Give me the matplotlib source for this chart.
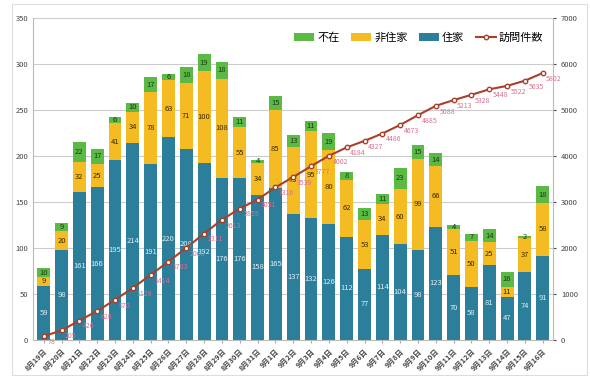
import matplotlib.pyplot as plt
import numpy as np

plt.rcParams['font.family'] = ['Noto Sans CJK JP', 'DejaVu Sans']

dates = ['8月19日', '8月20日', '8月21日', '8月22日', '8月23日', '8月24日', '8月25日',
         '8月26日', '8月27日', '8月28日', '8月29日', '8月30日', '8月31日',
         '9月1日', '9月2日', '9月3日', '9月4日', '9月5日', '9月6日', '9月7日',
         '9月8日', '9月9日', '9月10日', '9月11日', '9月12日', '9月13日', '9月14日',
         '9月15日', '9月16日']
jyuka = [59, 98, 161, 166, 195, 214, 191, 220, 208, 192, 176, 176, 158, 165, 137,
         132, 126, 112, 77, 114, 104, 98, 123, 70, 58, 81, 47, 74, 91]
hijyuka = [9, 20, 32, 25, 41, 34, 78, 63, 71, 100, 108, 55, 34, 85, 73,
           95, 80, 62, 53, 34, 60, 99, 66, 51, 50, 25, 11, 37, 58]
fuzai = [10, 9, 22, 17, 6, 10, 17, 6, 18, 19, 18, 11, 4, 15, 13,
         11, 19, 8, 13, 11, 23, 15, 14, 4, 7, 14, 16, 2, 18]
houmon = [78, 205, 420, 628, 870, 1128, 1414, 1703, 2000, 2311, 2613, 2855, 3051,
          3316, 3539, 3777, 4002, 4184, 4327, 4486, 4673, 4885, 5088, 5213, 5328,
          5448, 5522, 5635, 5802]

c_jyu = '#2b7f9b'
c_hi = '#f4bc22'
c_fu = '#5bb946'
c_line = '#a8402a'
c_lab = '#d9708f'

x = np.arange(len(dates))
jyuka = np.array(jyuka)
hijyuka = np.array(hijyuka)
fuzai = np.array(fuzai)

fig = plt.figure(figsize=(5.9, 3.81), dpi=100)
ax = fig.add_axes([0.056, 0.108, 0.882, 0.845])

b1 = ax.bar(x, jyuka, 0.72, color=c_jyu, label='住家', zorder=2)
b2 = ax.bar(x, hijyuka, 0.72, bottom=jyuka, color=c_hi, label='非住家', zorder=2)
b3 = ax.bar(x, fuzai, 0.72, bottom=jyuka + hijyuka, color=c_fu, label='不在', zorder=2)

for i in x:
    ax.text(i, jyuka[i] / 2, str(jyuka[i]), ha='center', va='center',
            fontsize=5.5, color='#dfeef3', zorder=3)
    ax.text(i, jyuka[i] + hijyuka[i] / 2, str(hijyuka[i]), ha='center', va='center',
            fontsize=5.5, color='#3a2a00', zorder=3)
    ax.text(i, jyuka[i] + hijyuka[i] + fuzai[i] / 2, str(fuzai[i]), ha='center',
            va='center', fontsize=5.5, color='#1d3b12', zorder=3)

ax.set_ylim(0, 350)
ax.set_yticks(range(0, 351, 50))
ax.set_xlim(-0.6, len(dates) - 0.4)
ax.set_xticks(x)
ax.set_xticklabels(dates, rotation=45, ha='right', fontsize=5.3, color='#444444',
                   fontweight='bold', rotation_mode='anchor')
ax.tick_params(axis='y', labelsize=5.5, colors='#444444', length=0)
ax.tick_params(axis='x', length=2, color='#aaaaaa')
ax.grid(axis='y', color='#cccccc', linewidth=0.8, zorder=0)
ax.set_axisbelow(True)
for s in ['top', 'right']:
    ax.spines[s].set_visible(False)
ax.spines['left'].set_color('#bbbbbb')
ax.spines['bottom'].set_color('#bbbbbb')

ax2 = ax.twinx()
ln, = ax2.plot(x, houmon, color=c_line, linewidth=1.5, marker='o', markersize=3.2,
               markerfacecolor='white', markeredgecolor=c_line, markeredgewidth=1,
               label='訪問件数', zorder=4)
for i in x:
    ax2.text(i + 0.2, houmon[i] - 40, str(houmon[i]), ha='left', va='top',
             fontsize=5, color=c_lab, zorder=5)
ax2.set_ylim(0, 7000)
ax2.set_yticks(range(0, 7001, 1000))
ax2.tick_params(axis='y', labelsize=5.5, colors='#444444', length=2)
for s in ['top', 'left', 'bottom']:
    ax2.spines[s].set_visible(False)
ax2.spines['right'].set_color('#bbbbbb')

ax.legend(handles=[b3, b2, b1, ln], loc='upper right', ncol=4, frameon=False,
          fontsize=8, handlelength=1.8, handleheight=0.7, columnspacing=1.0,
          handletextpad=0.3, bbox_to_anchor=(1.0, 0.985))

border = plt.Rectangle((0.02, 0.015), 0.975, 0.975, transform=fig.transFigure,
                       fill=False, edgecolor='#dddddd', linewidth=0.8)
fig.patches.append(border)

fig.savefig('out.png', dpi=100)
